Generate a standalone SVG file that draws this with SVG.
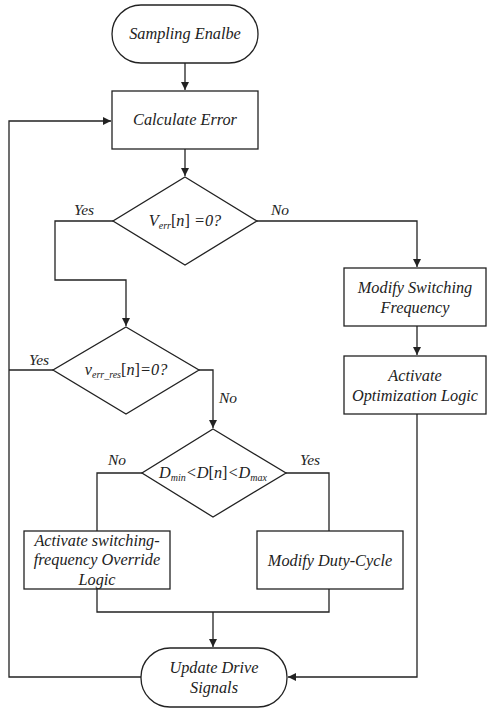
<svg xmlns="http://www.w3.org/2000/svg" width="487" height="709" viewBox="0 0 487 709">
<style>
.s{fill:#fff;stroke:#222;stroke-width:1.3}
.c{fill:none;stroke:#222;stroke-width:1.3}
text{font-family:"Liberation Serif","Times New Roman",serif;font-style:italic;font-size:16.3px;fill:#222;text-anchor:middle}
.l{font-size:15.5px}
</style>
<defs>
<marker id="a" viewBox="0 0 10 10" refX="10" refY="5" markerWidth="8" markerHeight="8" markerUnits="userSpaceOnUse" orient="auto"><path d="M0,0L10,5L0,10z" fill="#222"/></marker>
</defs>
<rect width="487" height="709" fill="#fff"/>
<g id="connectors">
<path class="c" d="M185,63V90" marker-end="url(#a)"/>
<path class="c" d="M185,149V176" marker-end="url(#a)"/>
<path class="c" d="M113,221H55V280H126V326" marker-end="url(#a)"/>
<path class="c" d="M257,221H417V267" marker-end="url(#a)"/>
<path class="c" d="M417,326V355" marker-end="url(#a)"/>
<path class="c" d="M417,414V677H288" marker-end="url(#a)"/>
<path class="c" d="M199,370H213V428" marker-end="url(#a)"/>
<path class="c" d="M53,370H9"/>
<path class="c" d="M141,677H9V121H111" marker-end="url(#a)"/>
<path class="c" d="M142,473H97V531"/>
<path class="c" d="M286,473H329V531"/>
<path class="c" d="M97,589V612H329V589"/>
<path class="c" d="M213,612V647" marker-end="url(#a)"/>
<text class="l" x="84" y="215">Yes</text>
<text class="l" x="280" y="215">No</text>
<text class="l" x="39" y="365">Yes</text>
<text class="l" x="228" y="403">No</text>
<text class="l" x="117" y="465">No</text>
<text class="l" x="310" y="465">Yes</text>
</g>
<g id="start">
<rect class="s" x="112" y="5" width="146" height="58" rx="29"/>
<text x="185" y="39">Sampling Enalbe</text>
</g>
<g id="calc">
<rect class="s" x="112" y="91" width="146" height="58"/>
<text x="185" y="125">Calculate Error</text>
</g>
<g id="dec1">
<path class="s" d="M185,177L257,221L185,265L113,221z"/>
<text x="185" y="226">V<tspan font-size="10" dy="3">err</tspan><tspan dy="-3" font-style="normal">[</tspan>n<tspan font-style="normal">]</tspan> =0?</text>
</g>
<g id="modfreq">
<rect class="s" x="344" y="268" width="142" height="58"/>
<text x="415" y="293">Modify Switching</text>
<text x="415" y="313">Frequency</text>
</g>
<g id="optim">
<rect class="s" x="344" y="356" width="142" height="58"/>
<text x="415" y="381">Activate</text>
<text x="415" y="401">Optimization Logic</text>
</g>
<g id="dec2">
<path class="s" d="M126,327L199,370L126,414L53,370z"/>
<text x="126" y="375">v<tspan font-size="10" dy="3">err_res</tspan><tspan dy="-3" font-style="normal">[</tspan>n<tspan font-style="normal">]</tspan>=0?</text>
</g>
<g id="dec3">
<path class="s" d="M213,429L286,473L213,517L142,473z"/>
<text x="213" y="478">D<tspan font-size="10" dy="3">min</tspan><tspan dy="-3">&lt;D</tspan><tspan font-style="normal">[</tspan>n<tspan font-style="normal">]</tspan>&lt;D<tspan font-size="10" dy="3">max</tspan></text>
</g>
<g id="override">
<rect class="s" x="24" y="531" width="146" height="58"/>
<text x="97" y="546">Activate switching-</text>
<text x="97" y="565">frequency Override</text>
<text x="97" y="585">Logic</text>
</g>
<g id="duty">
<rect class="s" x="257" y="531" width="146" height="58"/>
<text x="330" y="566">Modify Duty-Cycle</text>
</g>
<g id="update">
<rect class="s" x="141" y="648" width="146" height="59" rx="29"/>
<text x="214" y="673">Update Drive</text>
<text x="214" y="693">Signals</text>
</g>
</svg>
